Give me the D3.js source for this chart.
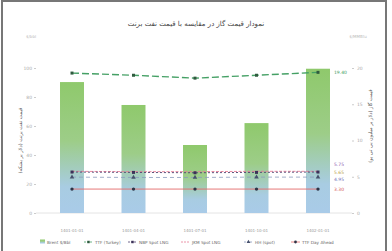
<!DOCTYPE html>
<html>
<head>
<meta charset="utf-8">
<script src="https://cdn.jsdelivr.net/npm/d3@7"></script>
<style>
  body { margin: 0; background: #fff; }
  svg { display: block; font-family: "DejaVu Sans", "Noto Sans", sans-serif; }
</style>
</head>
<body>
<div id="chart"></div>
<script>
const width = 392;
const height = 251;

// data
const dates = ["1401-01-01", "1401-04-01", "1401-07-01", "1401-10-01", "1402-01-01"];
const brent = [90.3, 74.5, 46.9, 62.0, 99.5];            // bars, left axis
const ttf = [19.3, 19.0, 18.6, 19.0, 19.4];              // green dashed
const nbp = [5.65, 5.6, 5.55, 5.6, 5.65];                // dark dashed
const jkm = [5.75, 5.7, 5.7, 5.75, 5.75];                // pink dashed
const hh = [4.95, 4.9, 4.9, 4.95, 4.95];                 // grey dash
const henry = [3.3, 3.3, 3.3, 3.3, 3.3];                 // red solid
const leftTicks = [0, 20, 40, 60, 80, 100];
const rightTicks = [0, 5, 10, 15, 20];
const legendNames = ["Brent $/Bbl", "TTF (Turkey)", "NBP Spot LNG", "JKM Spot LNG", "HH (spot)", "TTF Day Ahead"];

const svg = d3.select("#chart").append("svg")
  .attr("width", width)
  .attr("height", height);

// frame
svg.append("rect")
  .attr("x", 2).attr("y", 1)
  .attr("width", 384).attr("height", 262)
  .attr("fill", "#fff")
  .attr("stroke", "#777")
  .attr("stroke-width", 2);

const grad = svg.append("defs").append("linearGradient")
  .attr("id", "barGrad")
  .attr("x1", 0).attr("y1", 0).attr("x2", 0).attr("y2", 1);
grad.append("stop").attr("offset", "0%").attr("stop-color", "#8fc96c");
grad.append("stop").attr("offset", "45%").attr("stop-color", "#9dcd88");
grad.append("stop").attr("offset", "80%").attr("stop-color", "#a8cce2");
grad.append("stop").attr("offset", "100%").attr("stop-color", "#a9cbe8");

const x = d3.scaleBand().domain(dates).range([41.25, 348.75]).paddingInner(0.61).paddingOuter(0.305);
const yL = d3.scaleLinear().domain([0, 100]).range([213, 68]);
const yR = d3.scaleLinear().domain([0, 20]).range([213, 68]);

// title
svg.append("text")
  .attr("x", 196).attr("y", 26)
  .attr("text-anchor", "middle")
  .attr("font-size", 7)
  .attr("fill", "#444")
  .attr("direction", "rtl")
  .text("نمودار قیمت گاز در مقایسه با قیمت نفت برنت");

// small corner labels
svg.append("text").attr("x", 31).attr("y", 38).attr("font-size", 4).attr("fill", "#bbb").attr("text-anchor", "middle").text("$/bbl");
svg.append("text").attr("x", 358).attr("y", 38).attr("font-size", 4).attr("fill", "#bbb").attr("text-anchor", "middle").text("$/MMBtu");

// baseline
svg.append("line")
  .attr("x1", 36).attr("x2", 352)
  .attr("y1", yL(0)).attr("y2", yL(0))
  .attr("stroke", "#ddd").attr("stroke-width", 0.8);

// left axis
const axL = svg.append("g").attr("transform", "translate(36,0)")
  .call(d3.axisLeft(yL).tickValues(leftTicks).tickSize(2).tickPadding(2));
axL.select(".domain").remove();
axL.selectAll("line").attr("stroke", "#ccc");
axL.selectAll("text").attr("font-size", 4.5).attr("fill", "#aaa").attr("font-family", "DejaVu Sans");

// right axis
const axR = svg.append("g").attr("transform", "translate(352,0)")
  .call(d3.axisRight(yR).tickValues(rightTicks).tickSize(2).tickPadding(3));
axR.select(".domain").remove();
axR.selectAll("line").attr("stroke", "#ccc");
axR.selectAll("text").attr("font-size", 4.5).attr("fill", "#aaa").attr("font-family", "DejaVu Sans");

// axis titles
svg.append("text")
  .attr("transform", `translate(22,${yL(50)}) rotate(-90)`)
  .attr("text-anchor", "middle")
  .attr("font-size", 5)
  .attr("fill", "#555")
  .attr("direction", "rtl")
  .text("قیمت نفت برنت (دلار بر بشکه)");
svg.append("text")
  .attr("transform", `translate(372,${yR(12)}) rotate(-90)`)
  .attr("text-anchor", "middle")
  .attr("font-size", 5)
  .attr("fill", "#555")
  .attr("direction", "rtl")
  .text("قیمت گاز (دلار بر میلیون بی تی یو)");

// bars
svg.append("g").selectAll("rect")
  .data(brent)
  .join("rect")
  .attr("x", (d, i) => x(dates[i]))
  .attr("width", x.bandwidth())
  .attr("y", d => yL(d))
  .attr("height", d => yL(0) - yL(d))
  .attr("fill", "url(#barGrad)");

// x labels
svg.append("g").selectAll("text")
  .data(dates)
  .join("text")
  .attr("x", d => x(d) + x.bandwidth() / 2)
  .attr("y", 232)
  .attr("text-anchor", "middle")
  .attr("font-size", 4)
  .attr("fill", "#999")
  .text(d => d);

const series = [
  {values: ttf, color: "#45a065", dash: "7,3", width: 1.4, marker: "square", mcolor: "#2f5a3e"},
  {values: jkm, color: "#e67c95", dash: "3,1.5", width: 0.9, marker: "none", mcolor: "#e67c95"},
  {values: nbp, color: "#4d3f6e", dash: "2,2", width: 0.9, marker: "square", mcolor: "#3c3158"},
  {values: hh, color: "#8c9bbd", dash: "4,3", width: 0.8, marker: "triangle", mcolor: "#46506c"},
  {values: henry, color: "#e36a6a", dash: null, width: 0.9, marker: "circle", mcolor: "#2d3346"}
];

const line = d3.line()
  .x((d, i) => x(dates[i]) + x.bandwidth() / 2)
  .y(d => yR(d));

series.forEach(s => {
  svg.append("path")
    .datum(s.values)
    .attr("fill", "none")
    .attr("stroke", s.color)
    .attr("stroke-width", s.width)
    .attr("stroke-dasharray", s.dash)
    .attr("d", line);
  if (s.marker === "none") return;
  const sym = s.marker === "square" ? d3.symbolSquare : s.marker === "triangle" ? d3.symbolTriangle : d3.symbolCircle;
  svg.append("g").selectAll("path")
    .data(s.values)
    .join("path")
    .attr("transform", (d, i) => `translate(${x(dates[i]) + x.bandwidth() / 2},${yR(d)})`)
    .attr("d", d3.symbol(sym, 9))
    .attr("fill", s.mcolor);
});

// value labels for last point, spread to avoid overlap
const lastLabels = [
  {v: ttf[4], color: "#3d9b5e"},
  {v: jkm[4], color: "#8a5bb0"},
  {v: nbp[4], color: "#b8a048"},
  {v: hh[4], color: "#6f6fb8"},
  {v: henry[4], color: "#d45656"}
];
lastLabels.forEach(l => l.y = yR(l.v));
const low = lastLabels.slice(1).sort((a, b) => a.y - b.y);
low[0].y -= 7;
for (let i = 1; i < low.length; i++) low[i].y = Math.max(low[i].y, low[i - 1].y + 7.2);
svg.append("g").selectAll("text")
  .data(lastLabels)
  .join("text")
  .attr("x", x(dates[4]) + x.bandwidth() + 4)
  .attr("y", d => d.y + 1.5)
  .attr("font-size", 4.5)
  .attr("fill", d => d.color)
  .text(d => d.v.toFixed(2));

// legend
const legX = [40, 84, 128, 181, 244, 291];
const legend = svg.append("g").attr("font-size", 4.2).attr("fill", "#666");
legendNames.forEach((name, i) => {
  const g = legend.append("g").attr("transform", `translate(${legX[i]},242)`);
  if (i === 0) {
    g.append("rect").attr("x", 0).attr("y", -2.5).attr("width", 5).attr("height", 4).attr("fill", "url(#barGrad)");
  } else {
    const s = [null, series[0], series[2], series[1], series[3], series[4]][i];
    g.append("line").attr("x1", 0).attr("x2", 9).attr("y1", 0).attr("y2", 0)
      .attr("stroke", s.color).attr("stroke-width", 0.8).attr("stroke-dasharray", s.dash ? "2,1" : null);
    if (s.marker !== "none") {
      const sym = s.marker === "square" ? d3.symbolSquare : s.marker === "triangle" ? d3.symbolTriangle : d3.symbolCircle;
      g.append("path").attr("transform", "translate(4.5,0)").attr("d", d3.symbol(sym, 6)).attr("fill", s.mcolor);
    }
  }
  g.append("text").attr("x", i === 0 ? 7 : 11).attr("y", 1.5).text(name);
});
</script>
</body>
</html>
